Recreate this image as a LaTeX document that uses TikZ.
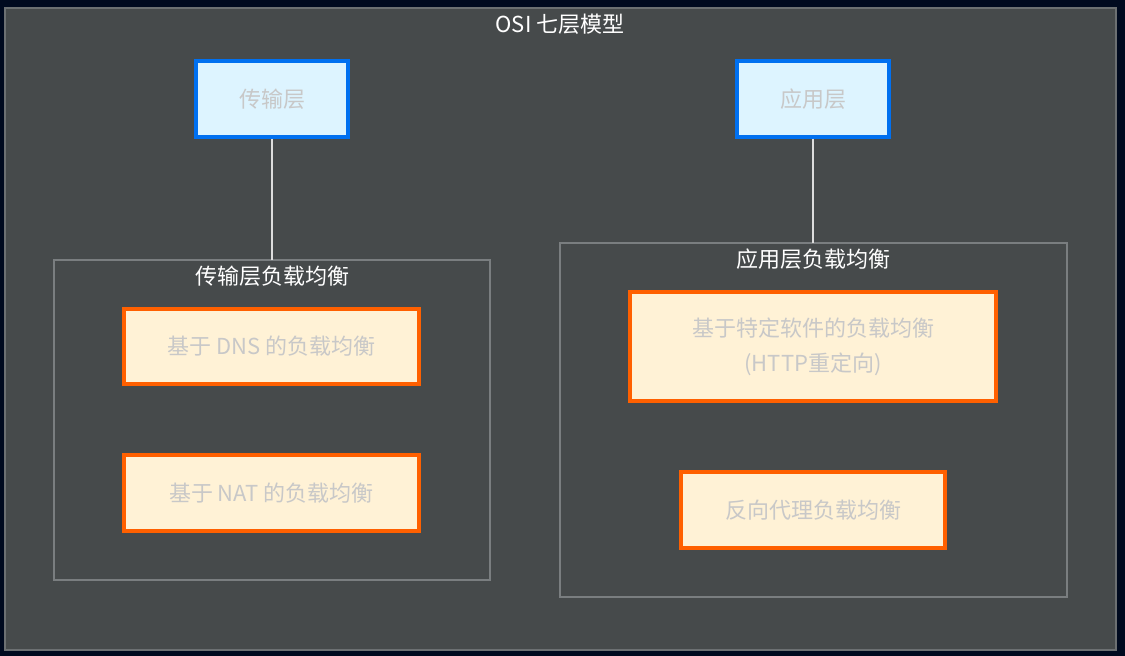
\documentclass[tikz,border=0pt]{standalone}
\usepackage{fontspec}
\setmainfont{Noto Sans CJK SC}
\begin{document}
\begin{tikzpicture}[x=1pt,y=-1pt,
  every node/.style={font=\fontsize{22}{28}\selectfont},
  bluebox/.style={draw=blueB, fill=blueF, line width=3.2pt, text=txtG, inner sep=0pt},
  orangebox/.style={draw=orangeB, fill=orangeF, line width=3.2pt, text=txtG, inner sep=0pt, align=center},
  groupbox/.style={draw=grpB, line width=1.6pt},
  title/.style={text=white, inner sep=0pt},
  link/.style={draw=linkC, line width=1.4pt}
]
\definecolor{bgN}{HTML}{000A1F}
\definecolor{outerF}{HTML}{464A4B}
\definecolor{outerB}{HTML}{6C7072}
\definecolor{grpB}{HTML}{7A7E80}
\definecolor{blueB}{HTML}{0070F0}
\definecolor{blueF}{HTML}{DDF4FF}
\definecolor{orangeB}{HTML}{FF6000}
\definecolor{orangeF}{HTML}{FFF2D6}
\definecolor{txtG}{HTML}{C8C8C8}
\definecolor{linkC}{HTML}{DDDDDD}
\useasboundingbox (0,0) rectangle (1125,656);
\fill[bgN] (0,0) rectangle (1125,656);
\draw[fill=outerF, draw=outerB, line width=1.8pt] (5,8) rectangle (1116,650);
\node[title] (osi) at (560,24) {OSI 七层模型};
% groups
\draw[groupbox] (54,260) rectangle (490,580);
\draw[groupbox] (560,243) rectangle (1067,597);
\node[title] (g1) at (272,276) {传输层负载均衡};
\node[title] (g2) at (813,259) {应用层负载均衡};
\coordinate (g1top) at (272,260);
\coordinate (g2top) at (813,243);
% top nodes
\node[bluebox, minimum width=152pt, minimum height=76pt] (tl) at (272,99) {传输层};
\node[bluebox, minimum width=152pt, minimum height=76pt] (al) at (813,99) {应用层};
% inner nodes
\node[orangebox, minimum width=295pt, minimum height=75pt] (dns) at (271.5,346.5) {基于 DNS 的负载均衡};
\node[orangebox, minimum width=295pt, minimum height=76pt] (nat) at (271.5,493) {基于 NAT 的负载均衡};
\node[orangebox, minimum width=366pt, minimum height=109pt, font=\fontsize{22}{35}\selectfont] (http) at (813,346.5) {基于特定软件的负载均衡\\(HTTP重定向)};
\node[orangebox, minimum width=264pt, minimum height=76pt] (rp) at (813,510) {反向代理负载均衡};
% links
\draw[link] (tl.south) -- (g1top);
\draw[link] (al.south) -- (g2top);
\end{tikzpicture}
\end{document}
